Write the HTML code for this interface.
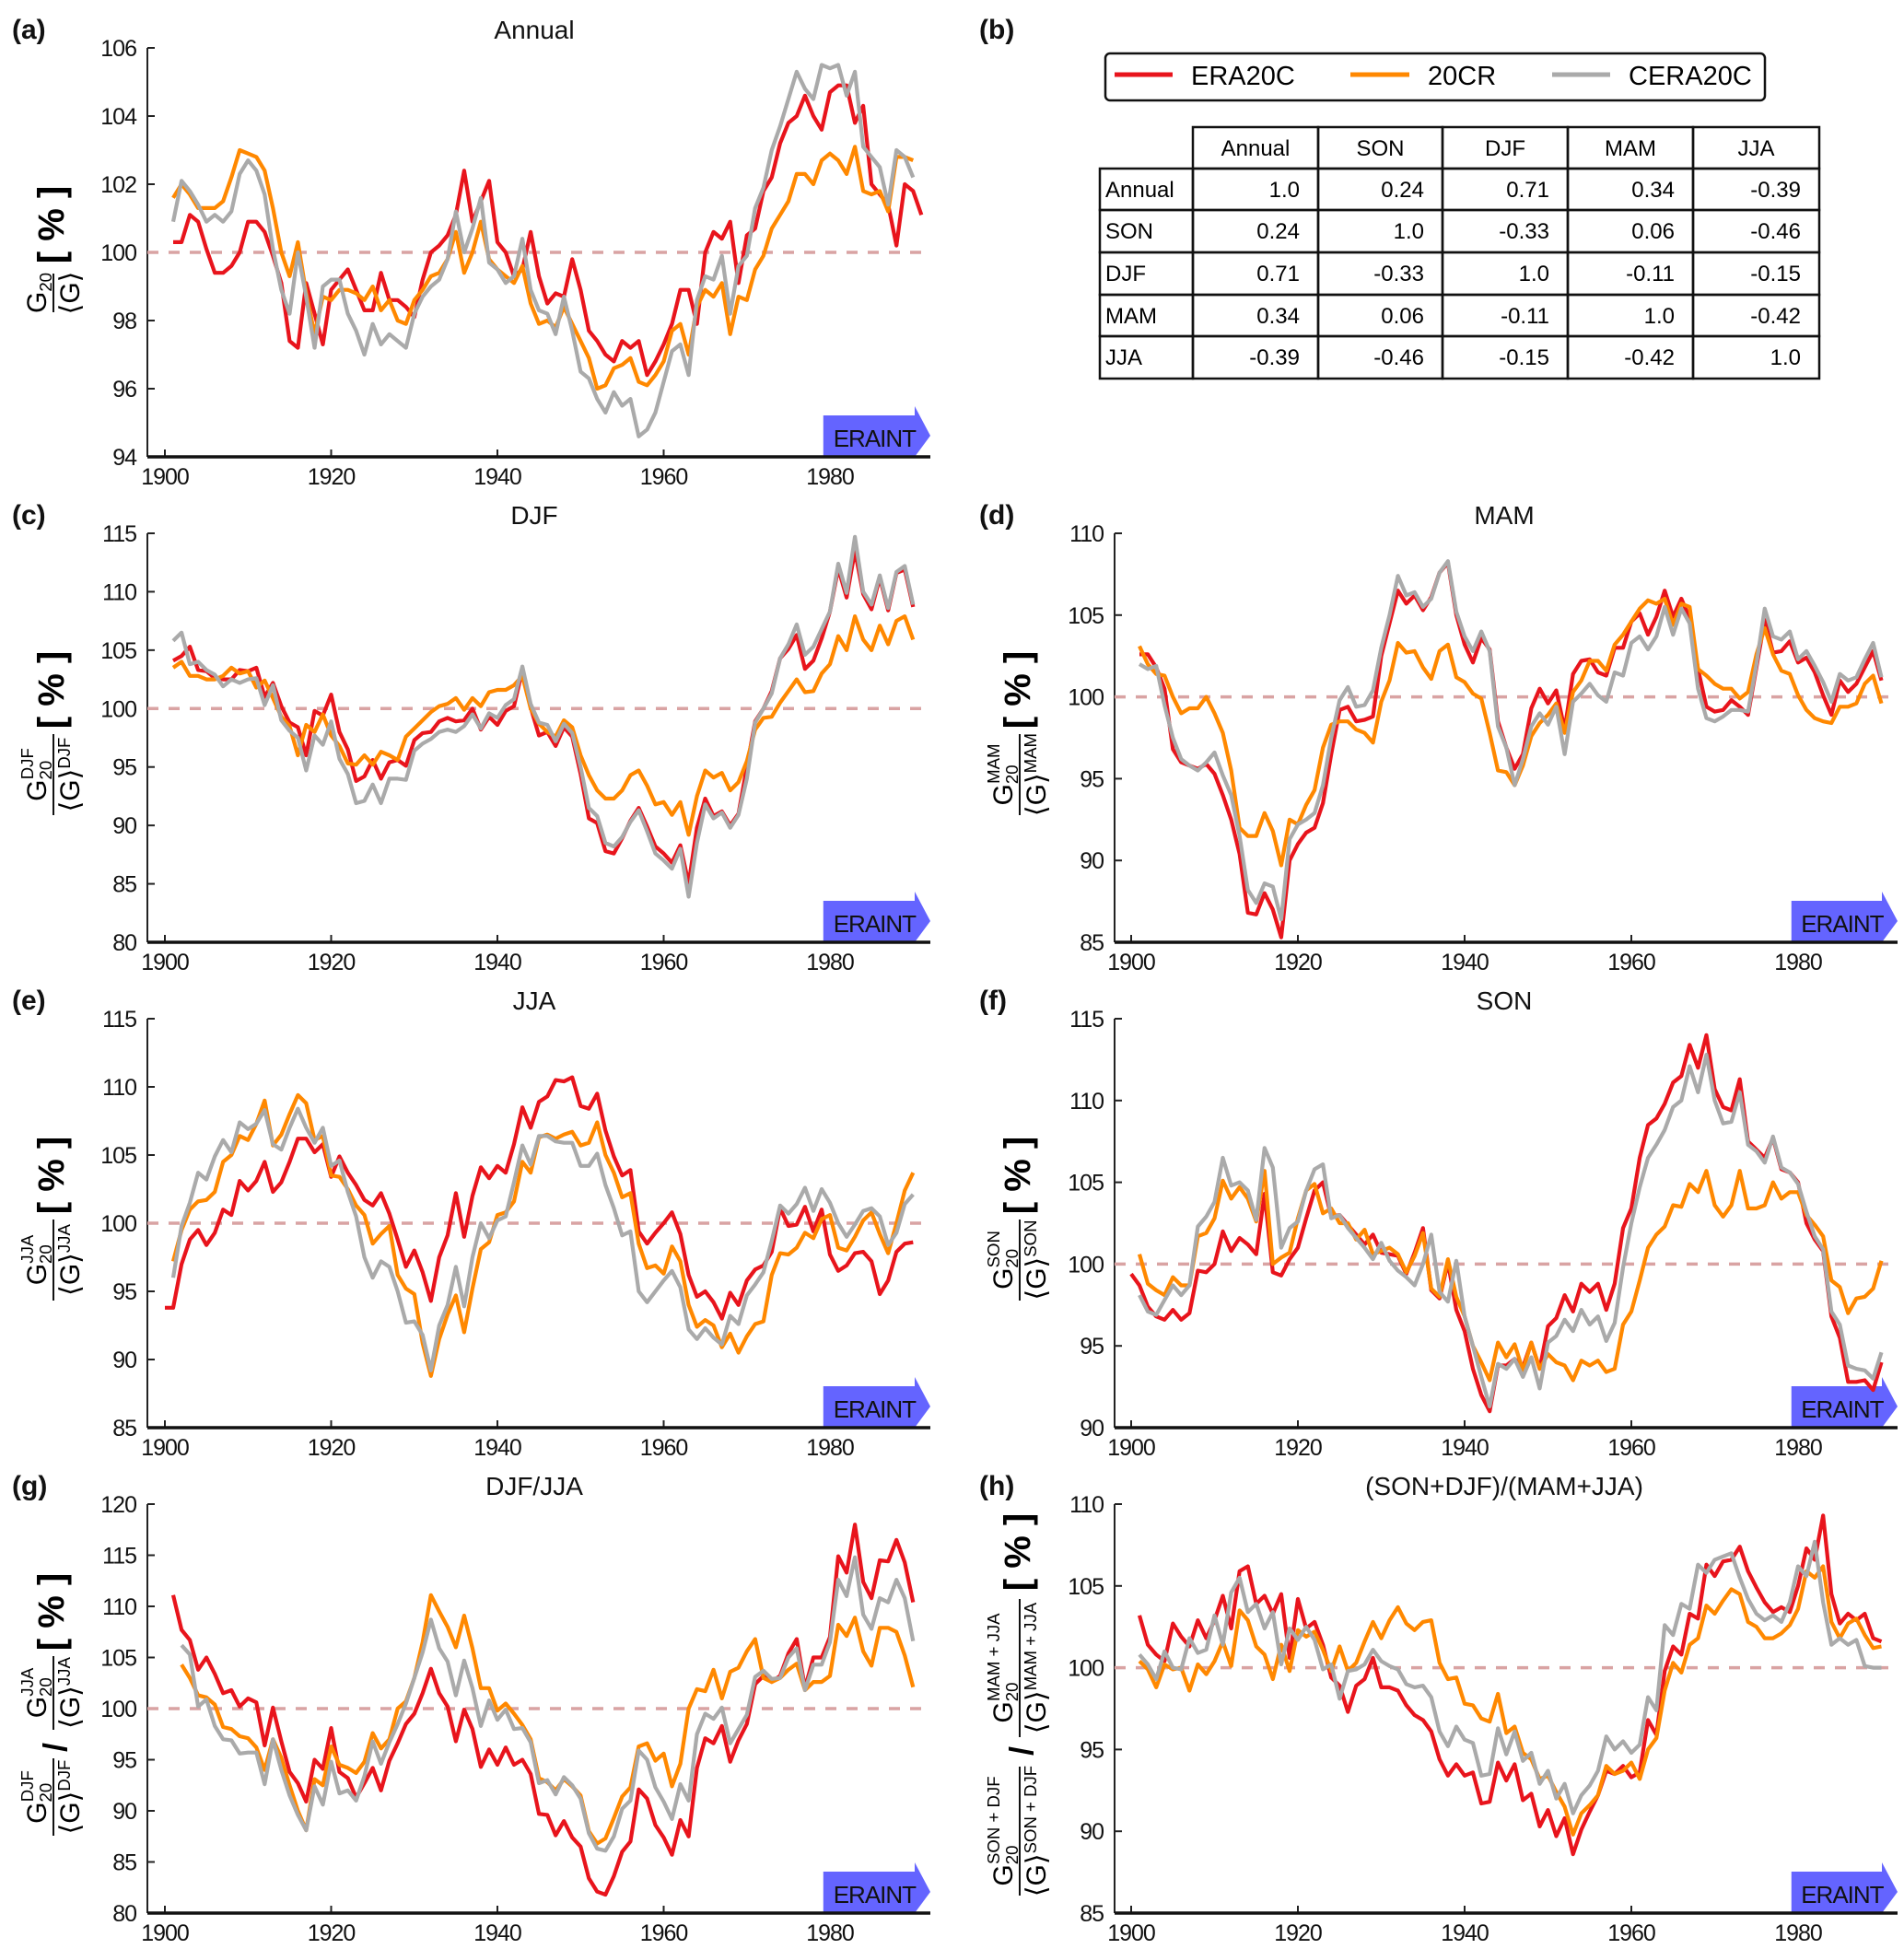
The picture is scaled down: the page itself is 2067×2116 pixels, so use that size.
<!DOCTYPE html>
<html><head><meta charset="utf-8"><style>
html,body{margin:0;padding:0;background:#fff;}
svg{display:block;font-family:"Liberation Sans",Arial,sans-serif;}
.tk{font-size:25px;fill:#111;letter-spacing:-1px;}
.ttl{font-size:28px;fill:#111;}
.lbl{font-size:30px;font-weight:bold;fill:#111;}
</style></head><body>
<svg id="fig" width="2067" height="2116" viewBox="0 0 2067 2116" xmlns="http://www.w3.org/2000/svg">
<g id="panel-b">
  <text class="lbl" x="1063" y="42">(b)</text>
  <rect x="1200" y="58" width="716" height="51" rx="5" fill="#fff" stroke="#111" stroke-width="2.5"/>
  <g><line x1="1210" y1="81" x2="1273" y2="81" stroke="#e8141c" stroke-width="5"/><text x="1293" y="92" style="font-size:29px">ERA20C</text></g>
  <g><line x1="1466" y1="81" x2="1530" y2="81" stroke="#ff8800" stroke-width="5"/><text x="1550" y="92" style="font-size:29px">20CR</text></g>
  <g><line x1="1685" y1="81" x2="1748" y2="81" stroke="#aaaaaa" stroke-width="5"/><text x="1768" y="92" style="font-size:29px">CERA20C</text></g>
  <g id="table"></g>
</g>
<g id="plots"></g>
</svg>
<script>
const NS="http://www.w3.org/2000/svg";
const seriesNames=["ERA20C","20CR","CERA20C"];
const seriesColors=["#e8141c","#ff8800","#aaaaaa"];
const tableCols=["Annual","SON","DJF","MAM","JJA"];
const tableRows=["Annual","SON","DJF","MAM","JJA"];
const tableVals=[["1.0","0.24","0.71","0.34","-0.39"],["0.24","1.0","-0.33","0.06","-0.46"],["0.71","-0.33","1.0","-0.11","-0.15"],["0.34","0.06","-0.11","1.0","-0.42"],["-0.39","-0.46","-0.15","-0.42","1.0"]];
const xTicks=[1900,1920,1940,1960,1980];

const annualEra=[100.3,100.3,101.1,100.9,100.1,99.4,99.4,99.6,100.0,100.9,100.9,100.6,99.9,99.1,97.4,97.2,99.1,98.2,97.3,98.9,99.2,99.5,98.9,98.3,98.3,99.4,98.6,98.6,98.4,98.1,99.2,100.0,100.2,100.5,101.1,102.4,100.9,101.5,102.1,100.3,100.0,99.3,99.5,100.6,99.3,98.5,98.8,98.7,99.8,98.9,97.7,97.4,97.0,96.8,97.4,97.2,97.4,96.4,96.8,97.3,97.9,98.9,98.9,97.9,100.0,100.6,100.4,100.9,99.1,100.5,100.7,101.8,102.2,103.2,103.8,104.0,104.6,104.0,103.6,104.7,104.9,104.9,103.8,104.3,102.0,101.7,101.4,100.2,102.0,101.8,101.1];
const annual20cr=[101.6,102.0,101.7,101.3,101.3,101.3,101.5,102.2,103.0,102.9,102.8,102.4,101.3,100.0,99.3,100.3,98.8,97.6,98.7,98.6,98.9,98.9,98.8,98.6,99.0,98.3,98.6,98.0,97.9,98.6,98.9,99.3,99.4,99.8,100.6,99.4,100.0,100.9,99.8,99.5,99.3,99.1,99.6,98.5,97.9,98.0,97.8,98.4,97.9,97.4,96.9,96.0,96.1,96.6,96.7,96.9,96.2,96.1,96.4,96.8,97.7,97.9,97.0,98.4,98.9,98.7,99.1,97.6,98.7,98.6,99.5,99.9,100.7,101.1,101.5,102.3,102.3,102.0,102.7,102.9,102.7,102.3,103.1,101.8,101.7,101.8,101.2,102.8,102.8,102.7];
const annualCera=[100.9,102.1,101.8,101.4,100.9,101.1,100.9,101.2,102.3,102.7,102.4,101.7,100.1,98.9,98.2,100.0,98.7,97.2,99.0,99.2,99.2,98.2,97.7,97.0,97.9,97.3,97.6,97.4,97.2,98.2,98.7,99.0,99.2,99.8,101.2,100.0,100.7,101.6,99.7,99.5,99.1,99.3,100.4,98.9,98.3,98.2,97.6,98.7,97.7,96.5,96.3,95.7,95.3,95.9,95.5,95.7,94.6,94.8,95.3,96.2,97.1,97.3,96.4,98.6,99.3,99.2,99.9,98.2,99.6,99.9,101.3,101.9,103.0,103.7,104.5,105.3,104.8,104.5,105.5,105.4,105.5,104.6,105.3,103.1,102.8,102.5,101.4,103.0,102.8,102.2];

const djfEra=[104.1,104.5,105.3,103.3,103.2,102.6,102.5,102.5,103.3,103.2,103.5,101.0,102.2,100.2,98.8,98.4,96.0,99.8,99.4,101.2,98.0,96.5,93.8,94.2,95.6,94.0,95.4,95.6,95.1,97.3,97.9,98.0,98.9,99.2,98.9,99.0,100.0,98.2,99.3,98.6,99.8,100.2,103.3,100.1,97.7,98.0,96.8,98.4,97.6,94.4,90.6,90.2,87.8,87.6,88.9,90.4,91.5,89.9,88.2,87.6,86.8,88.3,85.0,89.8,92.3,90.8,91.2,90.0,91.0,95.0,98.9,100.0,101.5,104.3,105.1,106.3,103.4,104.1,106.0,108.3,112.0,109.5,113.5,109.8,108.5,111.2,108.4,111.6,111.9,108.7];
const djf20cr=[103.5,104.0,102.8,102.8,102.5,102.5,102.8,103.5,103.0,103.2,101.8,102.4,100.9,99.3,98.5,96.0,98.6,98.0,99.5,97.7,96.8,95.3,95.2,96.0,95.2,96.3,96.0,95.6,97.6,98.3,99.0,99.7,100.2,100.4,100.9,99.9,100.9,100.2,101.4,101.6,101.6,102.0,102.8,100.0,98.7,98.0,97.6,99.0,98.4,96.0,94.3,93.0,92.3,92.3,93.0,94.3,94.7,93.4,91.8,92.0,90.9,92.0,89.2,92.5,94.7,94.1,94.5,93.0,93.7,95.5,98.2,99.2,99.3,100.5,101.5,102.5,101.4,101.5,103.0,103.8,106.2,105.0,107.9,105.9,105.0,107.1,105.5,107.5,107.9,105.9];
const djfCera=[105.8,106.5,103.8,104.0,103.3,102.9,101.9,102.5,102.2,102.5,102.6,100.3,102.0,99.0,98.1,97.5,94.7,97.7,96.9,98.9,95.7,94.4,91.9,92.1,93.5,91.9,94.0,94.0,93.9,96.4,97.0,97.4,98.0,98.2,98.0,98.5,99.5,98.3,99.6,99.2,100.3,100.8,103.6,100.4,98.8,98.6,97.2,98.7,97.9,95.0,91.5,90.8,88.5,88.2,89.0,90.3,91.3,89.5,87.6,87.0,86.3,88.0,83.9,88.5,91.8,90.6,91.1,89.8,90.9,94.0,98.8,100.0,101.3,104.3,105.5,107.2,104.6,105.3,106.8,108.3,112.4,109.9,114.7,110.0,108.9,111.4,108.6,111.7,112.2,108.9];

const mamEra=[102.6,102.6,101.8,100.5,96.8,96.0,95.8,95.6,95.9,95.3,94.0,92.5,90.4,86.8,86.7,88.0,87.0,85.3,90.0,91.0,91.7,92.0,93.5,96.5,99.2,99.4,98.5,98.6,98.8,102.5,104.5,106.5,105.7,106.2,105.3,106.1,107.6,108.2,105.0,103.2,102.1,103.6,102.9,98.5,96.9,95.6,96.5,99.3,100.5,99.6,100.4,98.0,101.4,102.2,102.3,101.5,101.3,103.0,103.0,104.6,105.1,103.8,104.9,106.5,104.9,106.0,104.8,101.7,99.4,99.1,99.2,99.8,99.4,98.9,101.8,104.7,102.7,102.8,103.4,102.1,102.4,101.5,100.1,98.9,101.0,100.3,100.8,101.8,102.8,101.0];
const mam20cr=[103.1,102.0,101.4,101.3,100.0,99.0,99.3,99.3,100.0,99.0,97.8,95.5,92.0,91.5,91.5,92.9,91.8,89.7,92.5,92.2,93.4,94.3,96.9,98.3,98.5,98.5,98.0,97.8,97.2,99.7,101.0,103.3,102.7,102.8,101.8,101.1,102.8,103.2,101.2,100.9,100.2,99.9,97.8,95.5,95.4,94.6,95.8,97.6,98.4,98.9,99.6,97.8,100.3,101.0,102.2,102.2,101.6,103.2,103.8,104.6,105.4,105.9,105.7,106.0,104.4,105.7,105.5,101.7,101.3,100.8,100.5,100.5,99.9,100.3,102.6,104.2,102.6,101.6,101.4,100.1,99.2,98.7,98.5,98.4,99.4,99.4,99.6,100.8,101.3,99.6];
const mamCera=[102.0,101.7,101.9,99.5,97.5,96.2,95.8,95.5,96.0,96.6,95.2,94.0,91.5,88.2,87.4,88.6,88.4,86.4,91.3,92.2,92.5,92.9,94.6,97.5,99.8,100.6,99.4,99.5,100.4,103.0,105.0,107.4,106.2,106.4,105.5,106.0,107.6,108.3,105.2,103.7,102.8,104.0,102.8,98.2,96.9,94.6,96.2,98.2,99.0,98.3,99.4,96.5,99.7,100.2,100.8,100.1,99.7,101.5,101.3,103.3,103.7,102.9,103.7,105.5,103.8,105.4,104.5,100.5,98.7,98.5,98.8,99.2,99.2,99.1,102.0,105.4,103.7,103.5,104.0,102.3,102.8,101.9,100.9,99.7,101.4,101.0,101.2,102.3,103.3,101.2];

const jjaEra=[93.8,93.8,97.0,98.8,99.5,98.4,99.3,101.0,100.6,103.1,102.4,103.1,104.5,102.3,103.0,104.5,106.2,106.2,105.2,105.8,103.4,104.9,103.7,102.8,101.7,101.3,102.2,100.7,98.8,96.8,98.0,96.4,94.3,97.5,99.1,102.2,99.0,102.0,104.1,103.3,104.2,103.7,105.8,108.5,107.0,108.9,109.3,110.5,110.4,110.7,108.6,108.4,109.5,106.8,104.9,103.5,103.9,99.4,98.5,99.3,100.0,100.8,99.2,96.2,94.6,95.0,94.2,93.0,94.9,94.0,95.8,96.6,96.9,97.9,101.1,99.8,99.9,101.2,99.4,101.0,97.7,96.5,96.9,97.8,97.9,97.2,94.8,95.8,97.9,98.5,98.6];
const jja20cr=[97.2,99.5,101.0,101.6,101.7,102.3,104.5,105.0,106.4,106.1,107.3,109.0,105.7,106.5,108.0,109.4,108.8,106.1,106.4,103.5,103.4,102.5,101.3,100.6,98.5,99.2,99.8,96.2,95.2,94.8,91.2,88.8,91.5,93.3,94.7,92.0,95.2,98.1,98.6,100.6,100.8,101.6,104.5,103.7,106.3,106.5,106.2,106.5,106.7,105.7,105.9,107.4,105.0,103.7,101.9,102.2,98.5,96.7,96.9,96.3,98.3,97.2,94.0,92.4,92.9,92.5,90.9,91.9,90.5,91.7,92.6,92.8,96.2,97.8,97.7,98.2,99.3,98.9,100.3,100.6,98.2,98.0,99.0,100.2,100.8,99.2,97.8,100.0,102.4,103.7];
const jjaCera=[96.0,99.8,101.5,103.7,103.2,104.9,106.1,105.2,107.4,106.9,107.3,108.3,105.8,105.4,107.0,108.4,107.0,105.9,107.0,104.2,104.6,102.3,100.5,97.5,96.0,97.2,96.8,95.0,92.7,92.8,91.8,89.2,92.5,94.0,96.8,93.9,97.5,100.0,98.9,100.2,100.5,103.0,105.7,104.3,106.4,106.4,106.0,105.9,105.9,104.2,104.2,105.1,102.8,101.1,99.1,99.4,95.0,94.2,95.0,95.8,96.5,95.3,92.2,91.5,92.3,91.6,91.1,93.2,92.6,94.7,95.5,96.4,98.7,101.3,100.7,101.4,102.6,100.9,102.5,101.5,100.0,99.0,99.9,100.9,101.1,100.5,98.4,99.3,101.4,102.1];

const sonEra=[99.4,98.7,97.4,96.8,96.6,97.2,96.6,97.0,99.6,99.5,100.0,102.0,100.8,101.6,101.2,100.6,104.3,99.5,99.3,100.3,101.0,102.8,104.5,105.0,102.9,103.0,102.4,101.8,101.2,101.8,100.7,100.6,100.5,99.4,100.7,102.2,98.4,97.9,100.1,97.2,95.9,93.6,92.0,91.0,93.8,93.8,94.2,93.7,95.2,93.6,96.2,96.7,98.1,97.1,98.8,98.3,98.8,97.2,98.8,102.2,103.4,106.5,108.5,108.9,109.8,111.1,111.5,113.4,112.0,114.0,110.7,109.6,109.4,111.3,107.5,107.0,106.5,107.7,105.8,105.6,105.0,102.5,101.5,100.8,96.8,95.5,92.8,92.8,92.9,92.3,94.0];
const son20cr=[100.6,98.8,98.4,98.1,99.2,98.7,98.7,101.7,101.9,102.8,105.1,104.0,104.7,104.0,102.6,105.7,100.0,100.4,100.7,102.8,104.5,104.9,103.1,103.4,102.5,102.5,101.5,102.1,100.6,100.8,101.0,100.6,99.5,100.5,101.9,98.5,98.0,100.3,98.0,96.8,95.0,94.0,92.9,95.2,94.3,95.1,93.5,95.2,93.6,94.5,94.0,93.8,92.9,94.1,93.8,94.1,93.4,93.6,96.3,97.1,99.0,101.0,101.8,102.3,103.6,103.5,104.9,104.4,105.7,103.6,102.9,103.6,105.7,103.4,103.4,103.6,105.0,104.0,104.4,104.4,103.0,102.4,101.7,99.0,98.6,97.0,97.9,98.0,98.5,100.2];
const sonCera=[98.1,97.1,96.9,97.8,98.7,98.1,98.7,102.3,102.9,103.8,106.5,104.8,105.0,104.5,102.7,107.1,105.9,101.0,102.2,102.6,104.5,105.8,106.1,102.8,103.0,102.2,101.6,101.0,100.3,101.3,100.2,99.6,99.2,98.7,100.0,101.8,98.3,97.7,100.2,96.8,95.0,93.1,91.3,93.9,93.6,94.2,93.1,94.3,92.4,95.2,95.6,96.6,95.9,97.2,96.3,96.8,95.3,96.4,99.8,102.5,104.7,106.5,107.3,108.2,109.6,110.0,112.1,110.5,112.8,110.0,108.6,108.7,110.5,107.3,106.9,106.2,107.8,105.9,105.6,104.9,103.2,101.7,100.9,97.1,96.3,93.8,93.6,93.5,93.0,94.6];

const ratioEra=[111.1,107.7,106.7,103.8,105.0,103.4,101.5,101.8,100.2,101.0,100.6,96.4,100.1,96.8,93.8,92.7,90.9,95.0,94.1,98.1,93.8,93.2,91.3,92.7,94.2,92.0,94.9,96.6,98.5,99.5,101.5,103.9,101.5,100.2,96.8,99.9,98.0,94.3,96.0,94.5,96.2,94.5,95.0,93.6,89.7,89.6,87.6,89.0,87.4,86.5,83.4,82.1,81.8,83.6,86.0,87.0,92.1,91.2,88.6,87.4,85.7,89.1,87.5,94.2,97.1,96.6,98.3,94.8,96.9,98.5,102.4,103.2,102.6,103.2,105.4,106.8,102.0,105.0,105.0,107.0,114.9,113.3,118.0,112.4,110.8,114.5,114.4,116.5,114.3,110.4];
const ratio20cr=[104.3,103.0,101.3,101.1,100.4,98.2,98.0,97.3,97.1,96.2,94.0,97.0,95.2,92.5,90.0,88.1,93.1,92.5,96.3,94.5,94.2,93.7,94.8,97.6,96.1,97.0,100.0,100.7,103.0,106.5,111.1,109.5,108.0,106.0,109.1,105.9,102.0,102.0,99.8,100.5,99.5,98.4,97.0,93.2,92.8,92.0,93.1,92.4,91.5,88.0,86.8,87.3,89.3,91.4,92.3,96.3,96.6,94.9,95.6,92.4,94.6,100.0,101.9,101.7,103.8,101.0,103.6,104.0,105.6,106.8,103.0,102.6,103.0,103.8,104.4,101.8,102.6,102.6,103.2,108.2,107.1,108.9,105.6,104.2,107.9,107.9,107.5,105.2,102.1];
const ratioCera=[106.2,105.3,100.2,100.9,98.3,97.0,96.9,95.6,95.7,95.7,92.6,97.0,94.0,91.5,89.6,88.1,92.4,90.6,94.8,91.7,92.0,91.0,93.4,96.8,94.6,96.7,98.5,100.5,103.0,105.5,108.7,105.9,104.6,101.3,104.7,102.0,98.3,100.8,98.9,99.9,98.0,98.1,96.7,92.7,93.0,91.6,93.3,92.5,91.2,87.8,86.3,86.1,87.5,90.2,91.0,95.9,95.0,92.3,90.9,89.2,92.6,91.0,97.5,99.5,99.0,100.1,96.6,98.0,99.4,103.1,103.7,102.9,103.0,105.0,105.9,101.8,104.3,104.3,106.5,112.6,111.0,114.8,109.2,107.8,110.8,110.4,112.6,110.8,106.6];

const halfEra=[103.2,101.4,100.8,100.4,102.7,101.9,101.3,102.9,101.8,102.9,104.4,102.4,105.9,106.2,103.9,104.4,103.3,104.5,100.6,104.2,102.4,102.8,101.4,99.4,98.9,97.3,98.9,99.3,100.6,98.8,98.8,98.6,97.7,97.1,96.8,96.1,94.4,93.4,94.1,93.4,93.6,91.7,91.8,94.2,93.1,94.1,91.9,92.3,90.3,91.3,89.7,90.8,88.6,90.1,91.2,92.2,93.7,93.5,94.0,93.3,93.6,96.8,95.9,99.8,101.3,100.8,103.3,103.0,106.3,105.6,106.5,106.6,107.4,105.9,104.9,104.0,103.4,103.7,103.4,105.0,107.3,106.6,109.3,104.5,102.7,103.3,102.9,103.3,101.8,101.6];
const half20cr=[100.4,99.9,98.8,100.2,99.9,100.0,98.6,100.2,99.6,100.4,101.6,100.1,103.5,102.9,101.3,100.8,99.3,101.4,99.8,102.3,101.9,102.2,101.1,99.8,101.3,99.8,100.3,101.6,102.8,101.8,102.9,103.7,102.7,102.3,102.8,102.9,100.3,99.3,99.4,97.8,97.7,96.9,96.7,98.4,96.0,96.4,94.8,94.4,93.2,93.4,92.4,91.5,89.8,91.1,91.6,92.2,94.0,93.5,93.7,94.2,93.2,95.0,95.7,98.6,100.3,99.7,101.4,101.8,103.8,103.3,104.1,104.8,104.5,102.8,102.5,101.8,101.8,102.1,102.6,103.6,105.9,105.5,106.2,102.8,101.8,102.7,103.0,102.0,101.2,101.3];
const halfCera=[100.8,100.2,99.3,101.0,100.0,99.9,101.8,100.9,101.1,103.2,101.4,104.6,105.5,103.4,103.9,102.4,103.4,100.2,102.4,101.7,102.5,101.7,99.9,100.2,98.1,99.8,99.9,100.2,101.1,100.4,100.1,99.9,99.0,98.8,98.9,98.2,96.1,95.2,96.4,95.6,95.4,93.4,93.5,96.3,94.7,96.1,94.3,94.8,92.9,93.7,92.0,92.9,91.1,92.2,92.8,93.7,95.8,95.0,95.5,94.8,95.3,98.2,97.4,102.6,102.0,103.9,103.6,106.3,105.8,106.6,106.8,107.0,105.5,104.2,103.3,102.9,103.2,102.8,104.0,106.2,105.6,107.7,104.0,101.4,101.8,101.4,101.7,100.1,100.0,100.0];

const panels=[
 {id:"a",title:"Annual",col:0,row:0,yMin:94,yMax:106,ticks:[94,96,98,100,102,104,106],series:[annualEra,annual20cr,annualCera],start:[1901,1901,1901],lab:{type:"annual"}},
 {id:"c",title:"DJF",col:0,row:1,yMin:80,yMax:115,ticks:[80,85,90,95,100,105,110,115],series:[djfEra,djf20cr,djfCera],start:[1901,1901,1901],lab:{type:"season",s:"DJF"}},
 {id:"d",title:"MAM",col:1,row:1,yMin:85,yMax:110,ticks:[85,90,95,100,105,110],series:[mamEra,mam20cr,mamCera],start:[1901,1901,1901],lab:{type:"season",s:"MAM"}},
 {id:"e",title:"JJA",col:0,row:2,yMin:85,yMax:115,ticks:[85,90,95,100,105,110,115],series:[jjaEra,jja20cr,jjaCera],start:[1900,1901,1901],lab:{type:"season",s:"JJA"}},
 {id:"f",title:"SON",col:1,row:2,yMin:90,yMax:115,ticks:[90,95,100,105,110,115],series:[sonEra,son20cr,sonCera],start:[1900,1901,1901],lab:{type:"season",s:"SON"}},
 {id:"g",title:"DJF/JJA",col:0,row:3,yMin:80,yMax:120,ticks:[80,85,90,95,100,105,110,115,120],series:[ratioEra,ratio20cr,ratioCera],start:[1901,1902,1902],lab:{type:"ratio",a:"DJF",b:"JJA"}},
 {id:"h",title:"(SON+DJF)/(MAM+JJA)",col:1,row:3,yMin:85,yMax:110,ticks:[85,90,95,100,105,110],series:[halfEra,half20cr,halfCera],start:[1901,1901,1901],lab:{type:"ratio",a:"SON + DJF",b:"MAM + JJA"}}
];

const svg=document.getElementById("fig");
const plots=document.getElementById("plots");
function mk(tag,attrs,parent,text){const e=document.createElementNS(NS,tag);for(const k in attrs)e.setAttribute(k,attrs[k]);if(text!==undefined)e.textContent=text;(parent||svg).appendChild(e);return e;}

// table
const tbl=document.getElementById("table");
const colX=[1194,1295,1431,1566,1702,1838,1975];
const rowY=[138,183,228,274,320,365,411];
for(let j=0;j<tableCols.length;j++){
  const r=mk("rect",{x:colX[j+1],y:rowY[0],width:colX[j+2]-colX[j+1],height:rowY[1]-rowY[0],fill:"none",stroke:"#111","stroke-width":2.5},tbl);
  
  
  const t=mk("text",{x:(colX[j+1]+colX[j+2])/2,y:rowY[0]+31,"text-anchor":"middle",style:"font-size:24px"},tbl,tableCols[j]);
  
  
}
for(let i=0;i<tableRows.length;i++){
  for(let j=0;j<6;j++){
    const r=mk("rect",{x:colX[j],y:rowY[i+1],width:colX[j+1]-colX[j],height:rowY[i+2]-rowY[i+1],fill:"none",stroke:"#111","stroke-width":2.5},tbl);
    
    
  }
  const rl=mk("text",{x:colX[0]+6,y:rowY[i+1]+31,style:"font-size:24px"},tbl,tableRows[i]);
  
  
  for(let j=0;j<5;j++){
    const v=mk("text",{x:colX[j+2]-20,y:rowY[i+1]+31,"text-anchor":"end",style:"font-size:24px"},tbl,tableVals[i][j]);
    
    
  }
}

const rowTops=[52,579,1106,1633];
const H=444;
function rot(parent,x,y,txt,size,extra){
  const t=mk("text",{x:0,y:0,transform:`translate(${x},${y}) rotate(-90)`,"text-anchor":"middle","dominant-baseline":"central",style:`font-size:${size}px;${extra||""}`},parent);
  t.innerHTML=txt;return t;
}
function gfrac(parent,cx,cy,len,sup,big){
  // numerator G20^sup left of bar, denominator <G>^sup right
  const fs=big||30;
  const g=mk("g",{transform:`translate(${cx},${cy}) rotate(-90)`},parent);
  mk("line",{x1:-len/2,y1:0,x2:len/2,y2:0,stroke:"#111","stroke-width":2},g);
  const n=mk("text",{x:0,y:-8,"text-anchor":"middle",style:`font-size:${fs}px`},g);
  n.innerHTML=`G<tspan style="font-size:${fs*0.62}px" dy="6">20</tspan>`+(sup?`<tspan style="font-size:${fs*0.62}px" dx="${-fs*0.62*1.1}" dy="-20">${sup}</tspan>`:"");
  const d=mk("text",{x:0,y:28,"text-anchor":"middle",style:`font-size:${fs}px`},g);
  d.innerHTML=`⟨G⟩`+(sup?`<tspan style="font-size:${fs*0.62}px" dy="-10">${sup}</tspan>`:"");
  return g;
}

panels.forEach(p=>{
  const top=rowTops[p.row];
  const bottom=top+H;
  const ox=p.col===0?0:1050;
  const axL=p.col===0?160:1210, axR=p.col===0?1010:2060;
  const x0=p.col===0?179:1228, pxYr=p.col===0?9.025:9.05;
  const X=yr=>x0+(yr-1900)*pxYr;
  const Y=v=>top+(p.yMax-v)/(p.yMax-p.yMin)*H;
  const g=mk("g",{},plots);
  
  

  const lb=mk("text",{class:"lbl",x:(p.col===0?13:1063),y:top-10},g,"("+p.id+")");
  
  
  const tt=mk("text",{class:"ttl","text-anchor":"middle",x:(p.col===0?580:1633),y:top-10},g,p.title);
  
  

  // y axis
  const ya=mk("line",{x1:axL,y1:top,x2:axL,y2:bottom,stroke:"#222","stroke-width":2},g);
  
  
  p.ticks.forEach(t=>{
    mk("line",{x1:axL,y1:Y(t),x2:axL+8,y2:Y(t),stroke:"#222","stroke-width":2},g);
    const tl=mk("text",{class:"tk",x:axL-12,y:Y(t)+9,"text-anchor":"end"},g,String(t));
    
    
  });
  xTicks.forEach(t=>{
    mk("line",{x1:X(t),y1:bottom,x2:X(t),y2:bottom-8,stroke:"#222","stroke-width":2},g);
    const tl=mk("text",{class:"tk",x:X(t),y:bottom+30,"text-anchor":"middle"},g,String(t));
    
    
  });
  // reference line
  const rl=mk("line",{x1:axL,y1:Y(100),x2:axR,y2:Y(100),stroke:"#d9a3a3","stroke-width":3.5,"stroke-dasharray":"12 11"},g);
  
  

  // ERAINT arrow
  const ex=X(1979.2), ee=axR;
  const er=mk("polygon",{points:`${ex},${bottom-45} ${ee-17},${bottom-45} ${ee-17},${bottom-55} ${ee},${bottom-23} ${ee-17},${bottom} ${ex},${bottom}`,fill:"#6464ff"},g);
  
  
  const et=mk("text",{x:(ex+ee-17)/2+6,y:bottom-11,"text-anchor":"middle",style:"font-size:26px;fill:#111;letter-spacing:-1px"},g,"ERAINT");
  
  

  // series
  p.series.forEach((arr,si)=>{
    const pts=arr.map((v,i)=>X(p.start[si]+i).toFixed(1)+","+Y(v).toFixed(1)).join(" ");
    const pl=mk("polyline",{points:pts,fill:"none",stroke:seriesColors[si],"stroke-width":4.2,"stroke-linejoin":"round"},g);
    
    
  });

  // x axis
  const xa=mk("line",{x1:axL,y1:bottom,x2:axR,y2:bottom,stroke:"#111","stroke-width":3.5},g);
  
  

  // y-axis title
  const yl=mk("g",{},g);
  
  
  const bx=p.col===0?0:1033;
  const bxc=p.col===0?0:16;
  if(p.lab.type==="annual"){
    rot(yl,bx+56,top+192,"[ % ]",40,"font-weight:bold");
    gfrac(yl,bx+58,top+266,42,"",30);
  } else if(p.lab.type==="season"){
    rot(yl,bx+56+bxc,top+170,"[ % ]",40,"font-weight:bold");
    gfrac(yl,bx+58+bxc,top+262,88,p.lab.s,30);
  } else {
    rot(yl,bx+56+bxc,(p.col===0?top+117:top+52),"[ % ]",40,"font-weight:bold");
    if(p.col===0){
      gfrac(yl,bx+58,top+205,80,p.lab.b,30);
      rot(yl,bx+60,top+264,"/",36,"font-weight:bold");
      gfrac(yl,bx+58,top+318,84,p.lab.a,30);
    } else {
      gfrac(yl,bx+58+bxc,top+178,150,p.lab.b,30);
      rot(yl,bx+60+bxc,top+268,"/",36,"font-weight:bold");
      gfrac(yl,bx+58+bxc,top+355,140,p.lab.a,30);
    }
  }
});
</script>
</body></html>
